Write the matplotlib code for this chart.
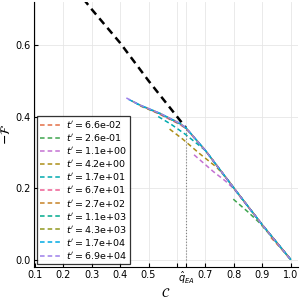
import numpy as np
import matplotlib
matplotlib.use("Agg")
import matplotlib.pyplot as plt

# values
q_ea = 0.632

# annealed curve (black dashed)
C_ann = [0.25, 0.30, 0.40, 0.50, 0.60, 0.632]
F_ann = [0.750, 0.700, 0.606, 0.500, 0.400, 0.368]

labels = ["6.6e-02", "2.6e-01", "1.1e+00", "4.2e+00", "1.7e+01", "6.7e+01",
          "2.7e+02", "1.1e+03", "4.3e+03", "1.7e+04", "6.9e+04"]

colors = [(0.889, 0.436, 0.278), (0.242, 0.643, 0.304), (0.764, 0.444, 0.824),
          (0.675, 0.555, 0.094), (0.000, 0.665, 0.681), (0.931, 0.367, 0.576),
          (0.777, 0.511, 0.149), (0.000, 0.664, 0.553), (0.559, 0.593, 0.117),
          (0.000, 0.661, 0.891), (0.610, 0.498, 0.916)]

# each curve: its own start (below the envelope) then joins the envelope
curves_C = [
    [0.93, 0.96, 1.00],
    [0.798, 0.85, 0.89, 0.95, 1.00],
    [0.66, 0.728, 0.77, 0.80, 0.90, 1.00],
    [0.574, 0.62, 0.68, 0.74, 0.78, 0.80, 0.90, 1.00],
    [0.534, 0.58, 0.63, 0.68, 0.70, 0.80, 0.90, 1.00],
    [0.49, 0.54, 0.61, 0.632, 0.70, 0.80, 0.90, 1.00],
    [0.47, 0.54, 0.61, 0.632, 0.70, 0.80, 0.90, 1.00],
    [0.45, 0.47, 0.54, 0.61, 0.632, 0.70, 0.80, 0.90, 1.00],
    [0.44, 0.47, 0.54, 0.61, 0.632, 0.70, 0.80, 0.90, 1.00],
    [0.43, 0.47, 0.54, 0.61, 0.632, 0.70, 0.80, 0.90, 1.00],
    [0.422, 0.47, 0.54, 0.61, 0.632, 0.70, 0.80, 0.90, 1.00],
]
curves_F = [
    [0.062, 0.036, 0.000],
    [0.169, 0.133, 0.103, 0.048, 0.000],
    [0.293, 0.246, 0.220, 0.198, 0.097, 0.000],
    [0.365, 0.337, 0.296, 0.258, 0.222, 0.200, 0.097, 0.000],
    [0.400, 0.378, 0.350, 0.318, 0.305, 0.200, 0.097, 0.000],
    [0.425, 0.406, 0.378, 0.366, 0.305, 0.200, 0.097, 0.000],
    [0.430, 0.407, 0.379, 0.367, 0.305, 0.200, 0.097, 0.000],
    [0.440, 0.431, 0.408, 0.380, 0.368, 0.305, 0.200, 0.097, 0.000],
    [0.444, 0.432, 0.409, 0.381, 0.368, 0.305, 0.200, 0.097, 0.000],
    [0.448, 0.432, 0.409, 0.381, 0.368, 0.305, 0.200, 0.097, 0.000],
    [0.452, 0.432, 0.409, 0.381, 0.368, 0.305, 0.200, 0.097, 0.000],
]

fig = plt.figure(figsize=(3, 3), dpi=100)
ax = fig.add_axes([0.113, 0.11, 0.88, 0.883])

ax.plot(C_ann, F_ann, color="black", ls=(0, (3, 2)), lw=1.8)
for c, f, lab, col in zip(curves_C, curves_F, labels, colors):
    ax.plot(c, f, color=col, ls=(0, (3, 2)), lw=1.1, label=r"$t' = $" + lab)

ax.plot([q_ea, q_ea], [0, 0.368], color="gray", ls=":", lw=0.8)

ax.set_xlim(0.097, 1.025)
ax.set_ylim(-0.0206, 0.72)
xt = [0.1, 0.2, 0.3, 0.4, 0.5, 0.6, q_ea, 0.7, 0.8, 0.9, 1.0]
xl = ["0.1", "0.2", "0.3", "0.4", "0.5", "", r"$\hat{q}_{EA}$", "0.7", "0.8", "0.9", "1.0"]
ax.set_xticks(xt)
ax.set_xticklabels(xl)
ax.set_yticks([0.0, 0.2, 0.4, 0.6])
ax.tick_params(direction="in", length=3, labelsize=7, pad=2)
ax.grid(True, color="#e6e6e6", lw=0.6)
ax.set_axisbelow(True)
for s in ["top", "right"]:
    ax.spines[s].set_visible(False)

ax.set_xlabel(r"$\mathcal{C}$", fontsize=9)
ax.xaxis.set_label_coords(0.5, -0.075)
ax.set_ylabel(r"$-\mathcal{F}$", fontsize=9, labelpad=2)

leg = ax.legend(loc="lower left", fontsize=6.8, frameon=True, fancybox=False,
                edgecolor="black", handlelength=2.2, labelspacing=0.22,
                borderaxespad=0.35, handletextpad=0.6, borderpad=0.3)
leg.get_frame().set_linewidth(0.9)

fig.savefig("out.png", dpi=100)
